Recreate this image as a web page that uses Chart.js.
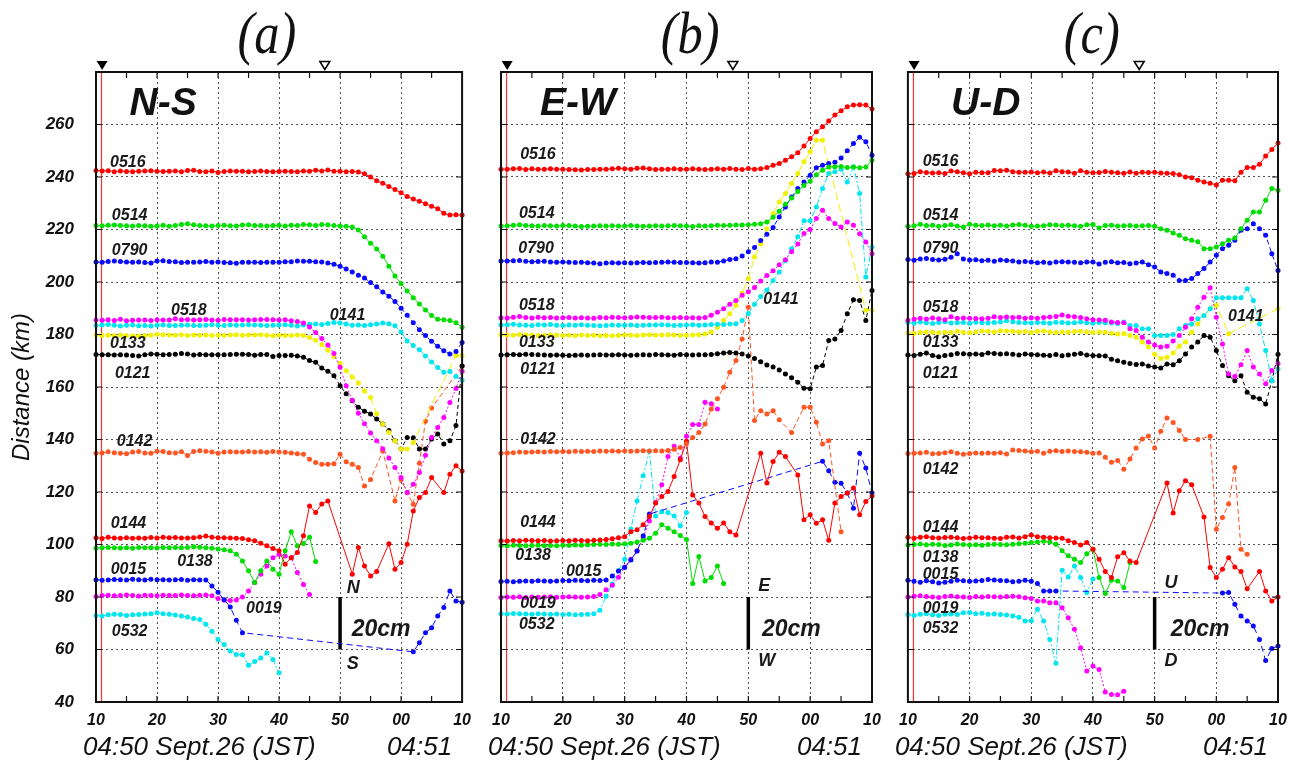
<!DOCTYPE html>
<html><head><meta charset="utf-8">
<script src="https://cdn.jsdelivr.net/npm/chart.js@4.4.1/dist/chart.umd.min.js"></script>
<style>
html,body{margin:0;padding:0;background:#fff;}
body{width:1303px;height:765px;position:relative;overflow:hidden;}
canvas{position:absolute;top:0;}
</style></head>
<body>
<canvas id="ca" width="480" height="765" style="left:0px"></canvas>
<canvas id="cb" width="410" height="765" style="left:480px"></canvas>
<canvas id="cc" width="413" height="765" style="left:890px"></canvas>
<script>
// ---- time axis (seconds after 04:50:00) ----
const T = [10,11,12,13,14,15,16,17,18,19,20,21,22,23,24,25,26,27,28,29,30,31,32,33,34,35,36,37,38,39,40,41,42,43,44,45,46,47,48,49,50,51,52,53,54,55,56,57,58,59,60,61,62,63,64,65,66,67,68,69,70];
const X_TICK_LABELS = ['10','20','30','40','50','00','10'];
const STATIONS = ['0516','0514','0790','0518','0141','0133','0121','0142','0144','0138','0015','0019','0532'];
const MARK_T = 10.9;      // red origin line / filled triangle
const EVENT_T = 47.5;     // open triangle
const SCALE_BAR = [60, 80]; // 20 cm bar at t=50

// ---------------- (a) N-S ----------------
const NS_0516 = [242.5,242.3,242.4,242.0,242.3,242.1,242.0,242.2,242.3,242.4,
242.2,242.1,242.2,242.3,242.0,242.5,242.6,242.1,242.0,242.3,
241.7,242.1,242.3,242.2,242.2,242.0,242.1,242.3,242.1,242.0,
242.1,242.2,242.1,242.0,242.3,242.2,242.6,242.3,242.7,242.2,
242.2,242.0,242.1,241.9,241.2,240.0,238.6,237.6,236.4,235.2,
234.0,232.6,231.6,230.8,229.8,228.9,227.9,226.2,225.5,225.6,
225.5];
const NS_0514 = [221.5,221.4,221.6,221.7,221.5,221.4,221.3,221.5,221.4,221.2,
221.3,221.6,221.2,221.5,221.9,222.2,221.8,221.5,221.4,221.3,
221.5,221.6,221.4,221.3,221.7,221.8,221.5,221.5,221.3,221.5,
221.6,221.3,221.6,221.5,221.9,221.8,221.5,221.9,221.8,221.5,
221.3,221.2,221.0,219.8,217.2,214.8,212.6,209.8,206.0,202.3,
199.4,196.6,194.0,191.6,189.3,187.2,185.8,185.6,185.3,184.5,
182.8];
const NS_0790 = [207.6,207.5,207.8,208.0,207.8,207.6,207.5,207.6,207.4,207.2,
208.0,208.1,207.8,207.7,207.4,207.5,207.5,207.6,207.8,207.5,
207.6,207.4,207.3,207.1,207.5,207.5,207.5,207.4,207.5,207.5,
207.5,207.7,207.7,208.0,207.9,207.9,207.7,207.6,207.2,206.8,
206.0,205.0,203.8,202.6,201.5,199.8,198.2,196.2,194.6,192.6,
190.0,187.3,184.5,181.8,179.6,177.4,175.5,173.8,172.6,173.5,
177.0];
const NS_0518 = [185.5,185.4,185.6,185.3,185.8,185.2,185.4,185.5,185.5,185.3,
185.6,185.5,185.5,186.0,185.6,185.7,185.5,185.6,185.7,185.5,
185.4,185.7,185.6,185.6,185.6,185.5,185.6,185.7,185.7,185.6,
185.5,185.6,185.2,185.0,184.4,182.9,180.8,178.5,176.0,172.8,
167.5,160.5,155.0,150.0,146.0,142.5,139.5,136.5,133.0,129.3,
125.5,119.8,123.0,127.4,134.0,140.8,144.6,148.4,154.1,159.4,
166.0];
const NS_0141 = [183.4,183.6,183.8,183.5,183.2,183.5,183.6,183.3,183.4,183.2,
183.5,183.6,183.4,183.4,183.5,183.6,183.4,183.4,183.5,183.7,
183.5,183.4,183.6,183.5,183.6,183.7,183.6,183.5,183.4,183.5,
183.6,183.7,183.5,183.2,183.6,183.9,184.0,183.8,184.2,184.6,
184.4,184.0,183.5,183.6,183.4,183.7,184.0,184.4,184.1,183.3,
181.0,177.5,175.8,174.2,171.8,169.5,167.4,165.6,165.9,164.0,
162.5];
const NS_0133 = [179.8,179.6,179.7,179.5,179.8,179.6,179.5,179.4,179.6,179.7,
180.1,179.9,179.8,179.7,179.9,179.6,179.8,179.7,179.8,179.6,
179.7,179.6,179.8,179.9,179.7,179.8,179.8,179.9,179.7,179.5,
179.7,179.6,179.6,179.8,179.6,178.9,177.8,176.2,174.0,171.5,
169.0,166.2,163.8,161.5,158.5,156.0,149.8,145.8,142.7,139.5,
136.4,136.4,138.9,null,null,null,null,null,null,172.0,
172.0];
const NS_0121 = [172.4,172.3,172.3,172.2,172.3,172.2,172.0,171.8,172.3,172.6,
172.5,172.3,172.4,172.5,172.8,172.6,172.2,172.4,172.3,172.3,
172.3,172.3,172.4,172.5,172.5,172.4,172.1,172.4,172.4,171.6,
172.0,172.0,172.1,171.8,171.3,170.1,169.4,167.2,166.0,164.3,
160.5,157.4,154.8,152.3,150.8,149.7,147.8,145.9,143.4,139.5,
136.4,140.8,140.7,136.4,136.4,140.2,142.1,138.3,139.5,145.3,
168.0];
const NS_0142 = [134.8,134.9,135.3,135.0,134.8,134.6,135.2,135.4,134.9,134.8,
135.5,135.4,135.0,134.9,135.3,133.9,135.4,135.7,135.5,135.2,
134.8,135.2,135.3,135.2,135.2,135.4,135.2,135.3,135.1,135.4,
135.2,135.1,134.9,134.6,134.4,132.5,131.2,130.6,130.6,130.8,
134.4,131.5,130.6,129.3,122.3,124.8,null,135.6,null,116.6,
124.8,119.7,115.3,131.0,147.0,152.0,null,null,null,null,
168.0];
const NS_0144 = [102.6,102.3,102.8,102.5,102.4,102.6,102.4,102.5,102.4,102.7,
102.5,102.8,102.6,102.7,102.5,102.5,102.6,102.9,103.2,102.8,
102.6,102.6,102.5,102.4,102.3,101.8,101.4,100.5,99.5,98.5,
97.6,92.5,95.0,97.0,103.3,114.7,112.2,115.4,116.6,null,
null,null,88.7,98.9,91.8,88.0,89.7,null,100.3,90.6,
93.1,100.1,112.8,117.9,119.8,125.5,null,119.8,126.8,130.0,
128.0];
const NS_0138 = [98.6,98.8,98.9,98.8,98.7,98.8,98.6,98.9,98.8,98.8,
98.7,98.9,98.8,98.9,98.8,98.9,99.1,99.0,98.8,98.6,
98.3,98.0,97.6,96.3,93.7,90.0,85.5,90.0,93.7,90.6,
88.7,97.6,104.9,99.5,100.4,102.8,93.5];
const NS_0015 = [86.6,86.4,86.5,86.7,86.6,86.5,86.8,86.6,86.5,86.8,
86.6,86.6,86.5,86.6,86.7,86.4,86.6,86.5,86.5,84.2,
81.8,79.0,76.2,71.1,66.4,null,null,null,null,null,
null,null,null,null,null,null,null,null,null,null,
null,null,null,null,null,null,null,null,null,null,
null,null,59.1,62.6,66.4,68.3,72.8,76.0,82.3,78.5,
78.0];
const NS_0019 = [80.2,80.6,80.7,80.5,80.6,80.8,80.6,80.4,80.7,80.6,
80.5,80.7,80.6,80.6,80.8,80.6,80.5,80.7,80.8,80.5,
79.4,78.8,78.7,78.9,80.0,82.3,85.5,88.7,91.8,95.0,
96.2,95.6,95.0,89.3,84.8,81.0];
const NS_0532 = [73.0,72.8,73.2,73.4,73.3,73.0,73.2,73.3,73.5,73.6,
74.0,73.6,73.4,73.1,72.8,72.4,71.8,71.4,69.6,67.0,
63.8,61.9,59.4,58.1,58.0,54.0,55.4,56.8,58.7,56.2,
51.1];

// ---------------- (b) E-W ----------------
const EW_0516 = [243.0,243.0,243.1,243.2,242.9,243.1,243.0,243.0,243.1,243.0,
243.0,242.9,242.8,242.7,242.9,242.9,243.0,243.0,243.1,243.3,
243.1,243.0,243.3,243.4,243.1,242.9,243.0,243.0,243.1,243.0,
243.0,243.1,243.0,242.9,243.0,243.1,243.0,243.2,243.0,242.9,
243.2,243.0,243.1,243.6,244.5,245.1,246.4,247.7,249.2,251.8,
254.7,257.2,259.1,261.3,263.6,265.2,266.8,267.4,267.5,267.4,
265.9];
const EW_0514 = [221.3,221.4,221.6,221.8,221.5,221.4,221.3,221.5,221.4,221.3,
221.5,221.5,221.3,221.1,221.2,221.3,221.4,221.3,221.4,221.3,
221.3,221.5,221.3,221.2,221.3,221.4,221.3,221.4,221.5,221.4,
221.3,221.1,221.4,221.3,221.4,221.6,221.5,221.6,221.7,221.7,
221.8,222.0,222.2,222.9,224.7,227.0,229.6,232.0,234.5,236.8,
238.4,240.9,242.6,243.8,243.9,244.0,243.6,243.8,243.5,243.8,
246.4];
const EW_0790 = [208.0,208.0,208.1,208.2,207.9,207.7,207.8,207.9,207.6,207.5,
207.6,207.5,207.4,207.5,207.3,207.2,207.0,207.2,207.3,207.2,
207.3,207.2,207.3,207.4,207.3,207.4,207.5,207.6,207.5,207.4,
207.4,207.3,207.2,207.3,207.6,207.5,208.0,208.6,208.9,209.9,
211.5,213.1,215.8,218.2,220.8,224.8,228.6,232.4,235.6,238.1,
240.7,243.5,244.5,245.1,245.6,247.2,250.0,252.8,255.1,253.4,
248.3];
const EW_0518 = [186.4,186.3,186.6,186.9,186.5,186.3,186.6,186.4,186.5,186.3,
186.4,186.5,186.3,186.4,186.3,186.2,186.5,186.4,186.6,186.5,
186.4,186.5,186.7,186.6,186.5,186.5,186.6,186.4,186.4,186.5,
186.4,186.4,186.3,186.5,187.3,188.5,189.8,191.5,193.0,195.0,
196.3,197.9,200.4,202.5,204.3,206.6,208.5,211.5,214.5,218.5,
220.0,224.2,227.3,224.2,222.3,221.0,222.9,221.6,218.4,215.2,
210.8];
const EW_0141 = [183.6,183.7,183.9,183.6,183.5,183.4,183.7,183.6,183.8,183.5,
183.4,183.6,183.5,183.7,183.5,183.4,183.3,183.4,183.6,183.5,
183.5,183.6,183.4,183.5,183.6,183.6,183.7,183.6,183.4,183.5,
183.6,183.7,183.5,183.6,183.8,183.9,183.8,184.0,184.1,185.3,
188.0,191.5,194.5,197.0,200.6,203.8,208.2,212.7,217.2,223.3,
223.3,228.6,235.6,241.3,242.0,243.0,238.1,243.9,233.7,201.9,
213.3];
const EW_0133 = [179.9,179.8,179.7,180.0,179.9,179.8,179.6,179.7,179.9,179.8,
179.6,179.7,179.5,179.8,179.6,179.7,179.5,179.6,179.5,179.6,
179.8,179.7,179.6,179.8,179.9,179.7,179.8,179.9,179.8,179.6,
179.7,179.8,179.9,180.2,181.0,182.8,185.3,187.9,191.1,195.8,
201.2,209.5,214.5,220.3,226.1,230.5,233.7,237.5,241.3,245.8,
249.6,254.0,254.0,null,null,null,null,null,null,189.2,
189.2];
const EW_0121 = [172.2,172.3,172.4,172.3,172.5,172.4,172.3,172.2,172.1,172.2,
172.1,172.0,172.1,172.2,172.1,172.2,172.3,172.2,172.2,172.3,
172.2,172.1,172.2,172.3,172.2,172.4,172.3,172.2,172.1,172.4,
172.3,172.2,172.3,172.3,172.4,172.7,173.0,173.1,173.0,172.6,
171.8,170.9,169.6,168.4,167.6,166.5,165.0,163.5,161.8,159.5,
159.3,167.6,168.2,177.7,178.3,181.5,187.9,193.2,193.0,185.3,
196.8];
const EW_0142 = [134.8,134.9,135.0,135.2,135.1,135.2,135.3,135.2,135.4,135.3,
135.4,135.3,135.5,135.4,135.5,135.4,135.6,135.5,135.6,135.5,
135.6,135.5,135.6,135.7,135.6,135.7,135.6,135.8,136.3,137.0,
138.5,140.8,142.7,145.9,151.6,155.5,159.9,165.6,170.1,178.3,
190.4,147.2,151.0,149.7,151.0,147.5,null,142.7,null,152.3,
152.3,146.6,138.3,139.5,null,104.9];
const EW_0144 = [101.4,101.3,101.5,101.4,101.6,101.5,101.4,101.5,101.3,101.4,
101.5,101.4,101.6,101.5,101.4,101.6,101.7,101.9,102.2,102.6,
103.0,104.9,105.6,107.5,110.7,115.8,118.3,120.2,125.9,132.3,
139.3,118.9,115.8,110.7,108.2,106.2,108.2,104.9,103.6,null,
null,null,134.8,123.4,131.6,135.1,133.5,null,126.5,109.4,
111.3,108.1,109.4,101.6,115.8,118.3,119.6,121.5,111.3,116.4,
118.5];
const EW_0138 = [99.6,99.5,99.7,99.6,99.5,99.6,99.7,99.5,99.6,99.5,
99.7,99.6,99.8,99.7,99.9,100.0,100.1,100.0,100.2,100.1,
100.3,100.5,101.0,101.6,102.4,104.3,107.5,106.2,104.9,103.4,
101.9,85.1,95.4,86.1,87.4,91.8,85.1];
const EW_0015 = [85.9,86.0,85.8,86.0,86.1,86.0,86.2,86.1,86.0,86.1,
86.3,86.2,86.4,86.3,86.2,86.4,86.3,86.5,88.0,89.9,
91.2,94.1,97.5,103.3,111.6,null,null,null,null,null,
null,null,null,null,null,null,null,null,null,null,
null,null,null,null,null,null,null,null,null,null,
null,null,131.7,128.1,123.7,123.3,119.6,113.8,134.8,129.1,
119.6];
const EW_0019 = [79.8,80.0,79.9,80.1,79.8,80.0,79.9,80.0,80.1,79.9,
80.0,80.1,80.0,79.9,80.0,80.2,81.0,82.8,84.5,87.5,
91.4,94.4,97.5,102.6,109.0,116.0,122.8,133.5,137.4,132.9,
141.2,145.7,145.7,154.2,153.6,151.6];
const EW_0532 = [73.6,73.5,73.7,73.6,73.5,73.4,73.6,73.5,73.4,73.5,
73.3,73.4,73.2,73.3,73.4,73.6,75.0,80.3,85.0,90.0,
94.4,105.9,116.6,126.2,135.5,110.9,112.5,112.2,110.9,107.1,
112.2];

// ---------------- (c) U-D ----------------
const UD_0516 = [241.2,241.3,242.0,241.7,241.5,241.6,241.3,242.3,242.0,241.6,
241.2,241.8,241.6,241.6,242.5,242.4,242.6,242.0,241.8,241.8,
241.9,241.6,241.9,241.5,242.4,242.0,241.9,241.4,242.4,241.8,
241.6,241.7,242.1,241.8,241.6,241.4,241.9,241.4,241.8,241.7,
241.8,241.5,241.4,241.3,240.9,240.0,239.7,238.8,238.1,237.6,
237.0,238.8,238.8,238.6,241.8,243.6,243.6,244.9,248.0,250.5,
253.0];
const UD_0514 = [221.2,221.4,222.0,221.5,221.6,221.2,221.5,221.8,221.3,221.0,
222.0,221.6,221.5,221.7,221.4,221.6,221.3,221.7,221.9,221.6,
221.2,221.3,221.4,221.8,221.7,221.5,221.6,221.4,221.2,221.8,
221.9,220.6,221.5,221.6,221.3,221.4,221.5,221.3,221.4,221.5,
221.2,220.3,219.7,218.7,217.8,216.5,215.9,215.3,212.7,212.7,
213.3,214.6,215.9,216.8,220.3,223.5,226.7,226.7,231.1,235.6,
235.0];
const UD_0790 = [208.6,208.3,208.8,209.0,208.6,208.4,208.7,209.4,210.8,208.8,
208.4,208.5,208.1,208.3,207.9,208.4,208.2,208.0,207.6,207.8,
207.6,207.3,207.5,207.2,207.6,207.7,207.6,207.5,207.3,207.6,
207.6,206.9,207.5,207.7,207.3,207.4,207.0,207.2,207.6,206.6,
205.7,203.8,203.2,202.6,200.6,200.6,201.3,203.2,205.1,207.6,
210.2,212.7,214.0,215.9,219.7,220.3,222.2,220.3,217.8,210.8,
204.4];
const UD_0518 = [185.4,185.8,186.2,185.9,186.3,186.0,185.6,186.8,186.2,186.3,
186.2,186.1,186.0,186.2,186.8,186.5,186.7,186.5,186.6,186.2,
186.4,186.2,186.5,186.7,186.9,187.4,187.0,186.8,186.5,186.0,
185.6,185.5,185.4,184.8,184.6,184.5,182.2,181.5,179.0,177.1,
176.0,175.2,175.5,177.5,179.6,182.8,186.0,190.4,194.2,197.8,
186.6,176.4,165.0,164.0,168.5,173.9,167.6,165.0,161.2,166.3,
169.0];
const UD_0141 = [184.6,184.3,184.8,184.5,184.2,184.6,184.9,184.4,184.5,184.6,
184.3,184.7,184.5,184.4,184.6,184.8,185.2,184.9,184.6,184.5,
184.4,184.6,184.5,184.3,184.7,184.6,184.4,184.5,184.8,184.5,
184.3,184.6,184.5,184.4,184.2,184.8,183.4,183.4,182.2,182.2,
179.6,179.6,179.6,180.0,182.2,183.4,184.0,186.0,187.2,189.8,
194.0,194.0,194.0,194.0,194.0,197.4,193.0,184.0,173.9,162.4,
166.9];
const UD_0133 = [180.6,180.4,180.8,181.0,180.9,180.7,180.9,180.8,181.2,180.9,
180.7,181.0,181.3,181.2,181.0,181.4,181.3,181.2,181.0,181.1,
180.8,181.2,181.3,181.0,180.8,181.0,180.9,181.1,181.2,181.0,
180.8,181.0,180.9,180.5,180.2,180.3,179.6,179.0,177.1,175.2,
172.5,170.9,171.3,173.0,175.5,177.1,180.9,184.0,187.2,189.8,
191.1,null,180.3,null,null,null,null,null,null,null,
189.8];
const UD_0121 = [172.2,172.0,172.5,173.0,172.0,171.5,172.0,172.3,172.8,172.7,
172.5,172.6,172.4,173.0,172.8,172.6,172.7,172.5,172.2,172.6,
172.4,172.3,172.1,172.0,172.4,171.9,172.2,172.5,172.8,172.2,
172.0,171.9,171.8,170.6,170.0,169.4,169.0,168.6,168.8,168.0,
167.6,167.2,168.8,168.5,170.0,172.6,175.2,177.1,179.6,179.0,
173.9,168.2,164.3,162.4,164.3,158.0,156.1,155.5,153.5,162.4,
172.5];
const UD_0142 = [134.7,134.8,134.9,135.1,134.6,134.7,135.0,135.3,134.8,134.4,
134.7,134.9,134.8,134.9,134.8,135.0,134.5,136.0,135.8,135.6,
135.3,135.5,134.8,135.5,135.7,135.4,135.6,135.4,135.3,135.1,
134.8,134.9,133.2,131.3,132.0,128.7,132.6,136.8,140.2,141.3,
136.8,143.1,148.2,146.5,143.4,140.0,null,140.0,null,141.2,
105.8,110.3,115.4,129.3,98.2,96.3];
const UD_0144 = [102.8,102.4,102.8,103.0,102.6,102.5,102.7,102.8,102.6,102.3,
102.5,102.8,102.6,102.6,102.4,102.3,102.8,102.9,102.5,103.0,
103.6,103.0,102.8,102.6,102.5,102.4,101.4,100.8,99.8,100.8,
98.2,94.4,89.7,87.4,95.3,96.9,93.7,93.1,null,null,
null,null,123.4,112.0,120.5,124.3,122.8,null,110.5,91.2,
87.4,90.6,95.0,91.4,89.7,83.1,null,89.7,82.3,78.5,
80.0];
const UD_0138 = [99.8,100.0,100.2,99.9,100.1,100.0,99.6,99.8,100.2,100.0,
99.8,99.9,99.7,100.0,100.1,100.0,99.9,100.1,100.3,100.5,
100.8,101.0,101.2,101.0,100.1,97.6,95.7,94.4,93.1,96.5,
98.2,87.4,81.3,86.4,86.1,83.6,93.1];
const UD_0015 = [86.4,86.0,85.6,86.2,85.8,85.3,85.6,86.0,86.4,86.2,
86.0,86.1,86.3,86.7,86.5,86.3,86.2,85.8,86.0,86.4,
86.0,85.1,82.3,82.3,82.3,null,null,null,null,null,
null,null,null,null,null,null,null,null,null,null,
null,null,null,null,null,null,null,null,null,null,
null,81.5,81.7,77.2,72.8,70.9,69.0,63.8,55.8,60.4,
61.3];
const UD_0019 = [80.0,80.3,80.5,80.2,80.0,79.8,80.2,80.4,80.1,80.0,
79.8,80.2,80.0,80.2,80.1,80.0,80.2,80.3,80.1,79.7,
79.4,78.5,78.5,77.8,77.8,75.9,72.1,67.7,60.7,51.8,
53.7,52.4,43.8,42.9,42.8,44.1];
const UD_0532 = [73.3,73.0,73.4,73.6,73.2,73.0,73.4,73.5,73.3,74.0,
74.1,73.6,73.8,73.4,73.5,73.3,73.1,72.8,72.3,70.9,
71.0,75.3,70.9,63.8,54.8,90.2,87.6,91.8,87.4,81.7,
86.9];

// ---------------- styles ----------------
const FONT = '"Liberation Sans", Arial, Helvetica, sans-serif';
const STYLE = {
  '0516': {c:'#ff0000', d:[]},
  '0514': {c:'#00dd00', d:[]},
  '0790': {c:'#0a0aff', d:[5,3]},
  '0518': {c:'#ff00ff', d:[2,2]},
  '0141': {c:'#00e6ee', d:[6,2,2,2]},
  '0133': {c:'#f0f000', d:[8,4]},
  '0121': {c:'#000000', d:[4,3]},
  '0142': {c:'#ff5522', d:[5,3]},
  '0144': {c:'#ff0000', d:[]},
  '0138': {c:'#00dd00', d:[]},
  '0015': {c:'#0a0aff', d:[6,4]},
  '0019': {c:'#ff00ff', d:[2,2]},
  '0532': {c:'#00e6ee', d:[6,2,2,2]}
};

const PANELS = [
  { id:'ca', title:'(a)', titleT:38, comp:'N-S', compT:15.5, up:'N', down:'S',
    padL:0, padR:12, yW:96, showY:true,
    series:[NS_0516,NS_0514,NS_0790,NS_0518,NS_0141,NS_0133,NS_0121,NS_0142,NS_0144,NS_0138,NS_0015,NS_0019,NS_0532],
    labels:[['0516',12.3,243.7],['0514',12.6,223.5],['0790',12.6,210.2],['0518',22.3,187.3],['0141',48.3,185.7],['0133',12.3,174.7],['0121',13.1,163.6],['0142',13.4,137.6],['0144',12.4,106.3],['0138',23.3,91.8],['0015',12.4,88.8],['0019',34.6,73.9],['0532',12.6,65.2]],
    upPos:[51.1,81.5], downPos:[51.1,52.5], cmPos:[51.9,65.2] },
  { id:'cb', title:'(b)', titleT:40.6, comp:'E-W', compT:16.3, up:'E', down:'W',
    padL:21, padR:18, yW:0, showY:false,
    series:[EW_0516,EW_0514,EW_0790,EW_0518,EW_0141,EW_0133,EW_0121,EW_0142,EW_0144,EW_0138,EW_0015,EW_0019,EW_0532],
    labels:[['0516',13.1,246.8],['0514',12.9,224.3],['0790',12.8,210.9],['0518',12.9,189.2],['0141',52.4,191.8],['0133',12.9,175.4],['0121',13.1,165.1],['0142',13.1,138.4],['0144',13.1,106.7],['0138',12.3,94.1],['0015',20.5,88.0],['0019',13.1,75.8],['0532',12.9,67.8]],
    upPos:[51.6,82.3], downPos:[51.6,53.7], cmPos:[52.2,65.2] },
  { id:'cc', title:'(c)', titleT:39.8, comp:'U-D', compT:17, up:'U', down:'D',
    padL:17, padR:25, yW:0, showY:false,
    series:[UD_0516,UD_0514,UD_0790,UD_0518,UD_0141,UD_0133,UD_0121,UD_0142,UD_0144,UD_0138,UD_0015,UD_0019,UD_0532],
    labels:[['0516',12.4,244.1],['0514',12.4,223.5],['0790',12.4,210.9],['0518',12.4,188.4],['0141',61.9,185.3],['0133',12.4,175.4],['0121',12.4,163.6],['0142',12.4,126.9],['0144',12.4,104.8],['0138',12.4,93.4],['0015',12.4,86.9],['0019',12.4,73.9],['0532',12.4,66.3]],
    upPos:[51.6,83.4], downPos:[51.6,53.7], cmPos:[52.6,65.2] }
];

const decor = {
  id:'decor',
  afterDatasetsDraw(chart, args, opts) {
    const P = opts.panel;
    const {ctx, chartArea:a} = chart;
    const x = chart.scales.x, y = chart.scales.y;
    ctx.save();
    ctx.setLineDash([]);
    // frame
    ctx.strokeStyle = '#111'; ctx.lineWidth = 2;
    ctx.strokeRect(a.left, a.top, a.right - a.left, a.bottom - a.top);
    // inward ticks
    ctx.lineWidth = 1.2; ctx.beginPath();
    for (let t = 15; t < 70; t += 5) {
      const px = x.getPixelForValue(t);
      ctx.moveTo(px, a.top); ctx.lineTo(px, a.top + 6);
      ctx.moveTo(px, a.bottom); ctx.lineTo(px, a.bottom - 6);
    }
    for (let v = 60; v < 280; v += 20) {
      const py = y.getPixelForValue(v);
      ctx.moveTo(a.left, py); ctx.lineTo(a.left + 6, py);
      ctx.moveTo(a.right, py); ctx.lineTo(a.right - 6, py);
    }
    ctx.stroke();
    // triangles
    const fx = x.getPixelForValue(MARK_T + 0.1);
    ctx.fillStyle = '#000';
    ctx.beginPath(); ctx.moveTo(fx - 5.5, a.top - 11); ctx.lineTo(fx + 5.5, a.top - 11); ctx.lineTo(fx, a.top - 2); ctx.closePath(); ctx.fill();
    const ox = x.getPixelForValue(EVENT_T);
    ctx.lineWidth = 1.5; ctx.strokeStyle = '#000';
    ctx.beginPath(); ctx.moveTo(ox - 5, a.top - 10.5); ctx.lineTo(ox + 5, a.top - 10.5); ctx.lineTo(ox, a.top - 2.5); ctx.closePath(); ctx.stroke();
    // title (a)/(b)/(c)
    ctx.save();
    ctx.translate(x.getPixelForValue(P.titleT), 53);
    ctx.scale(0.9, 1.06);
    ctx.font = 'italic 56px "Liberation Serif", "Times New Roman", serif';
    ctx.textAlign = 'center'; ctx.textBaseline = 'alphabetic'; ctx.fillStyle = '#111';
    ctx.fillText(P.title, 0, 0);
    ctx.restore();
    // component label
    ctx.fillStyle = '#111';
    ctx.textAlign = 'left'; ctx.textBaseline = 'alphabetic';
    ctx.font = 'italic bold 39px ' + FONT;
    ctx.fillText(P.comp, x.getPixelForValue(P.compT), y.getPixelForValue(263.6));
    // station labels
    ctx.font = 'italic bold 16px ' + FONT;
    ctx.fillStyle = '#1a1a1a';
    P.labels.forEach(([s, t, v]) => ctx.fillText(s, x.getPixelForValue(t), y.getPixelForValue(v)));
    // polarity letters and scale text
    ctx.font = 'italic bold 18px ' + FONT;
    ctx.fillText(P.up, x.getPixelForValue(P.upPos[0]), y.getPixelForValue(P.upPos[1]));
    ctx.fillText(P.down, x.getPixelForValue(P.downPos[0]), y.getPixelForValue(P.downPos[1]));
    ctx.font = 'italic bold 23px ' + FONT;
    ctx.fillText('20cm', x.getPixelForValue(P.cmPos[0]), y.getPixelForValue(P.cmPos[1]));
    // bottom time captions
    ctx.font = 'italic 26px ' + FONT;
    ctx.fillStyle = '#111';
    ctx.textAlign = 'left';
    ctx.fillText('04:50 Sept.26 (JST)', a.left - 13, 755);
    ctx.textAlign = 'right';
    ctx.fillText('04:51', a.right - 10, 755);
    ctx.restore();
  }
};

function buildChart(P) {
  const datasets = [];
  STATIONS.forEach((s, k) => {
    const arr = P.series[k];
    datasets.push({
      label: s,
      data: T.map((t, i) => ({x: t, y: arr[i]})).filter(p => p.y != null),
      borderColor: STYLE[s].c, backgroundColor: STYLE[s].c,
      pointBackgroundColor: STYLE[s].c, pointBorderColor: STYLE[s].c,
      borderWidth: 1, borderDash: STYLE[s].d,
      pointRadius: 2.5, pointBorderWidth: 0, tension: 0, clip: 5
    });
  });
  datasets.push({ label:'origin', data:[{x:MARK_T,y:40},{x:MARK_T,y:280}], borderColor:'#ff3030', borderWidth:1.2, pointRadius:0 });
  datasets.push({ label:'20cm', data:[{x:50,y:SCALE_BAR[0]},{x:50,y:SCALE_BAR[1]}], borderColor:'#000', borderWidth:3.5, pointRadius:0 });

  new Chart(document.getElementById(P.id), {
    type: 'line',
    data: { datasets },
    plugins: [decor],
    options: {
      responsive: false, animation: false, events: [],
      layout: { padding: { left: P.padL, right: P.padR, top: 72, bottom: 0 } },
      plugins: { legend: {display:false}, tooltip: {enabled:false}, decor: { panel: P } },
      scales: {
        x: {
          type: 'linear', min: 10, max: 70,
          afterFit: s => { s.height = 63; },
          ticks: { stepSize: 10, autoSkip: false, maxRotation: 0, padding: 9, color: '#111',
                   font: { family: FONT, style: 'italic', weight: 'bold', size: 16 },
                   callback: (v, i) => X_TICK_LABELS[i] },
          grid: { color: '#555', lineWidth: 1, drawTicks: false },
          border: { display: false, dash: [2, 3] }
        },
        y: {
          type: 'linear', min: 40, max: 280,
          afterFit: s => { s.width = P.yW; },
          ticks: { display: P.showY, stepSize: 20, padding: 22, color: '#111',
                   font: { family: FONT, style: 'italic', weight: 'bold', size: 17 },
                   callback: v => (v === 280 ? '' : String(v)) },
          title: { display: P.showY, text: 'Distance (km)', color: '#111', padding: { top: 8, bottom: 0 },
                   font: { family: FONT, style: 'italic', weight: 'normal', size: 24 } },
          grid: { color: '#555', lineWidth: 1, drawTicks: false },
          border: { display: false, dash: [2, 3] }
        }
      }
    }
  });
}
PANELS.forEach(buildChart);
</script>
</body></html>
